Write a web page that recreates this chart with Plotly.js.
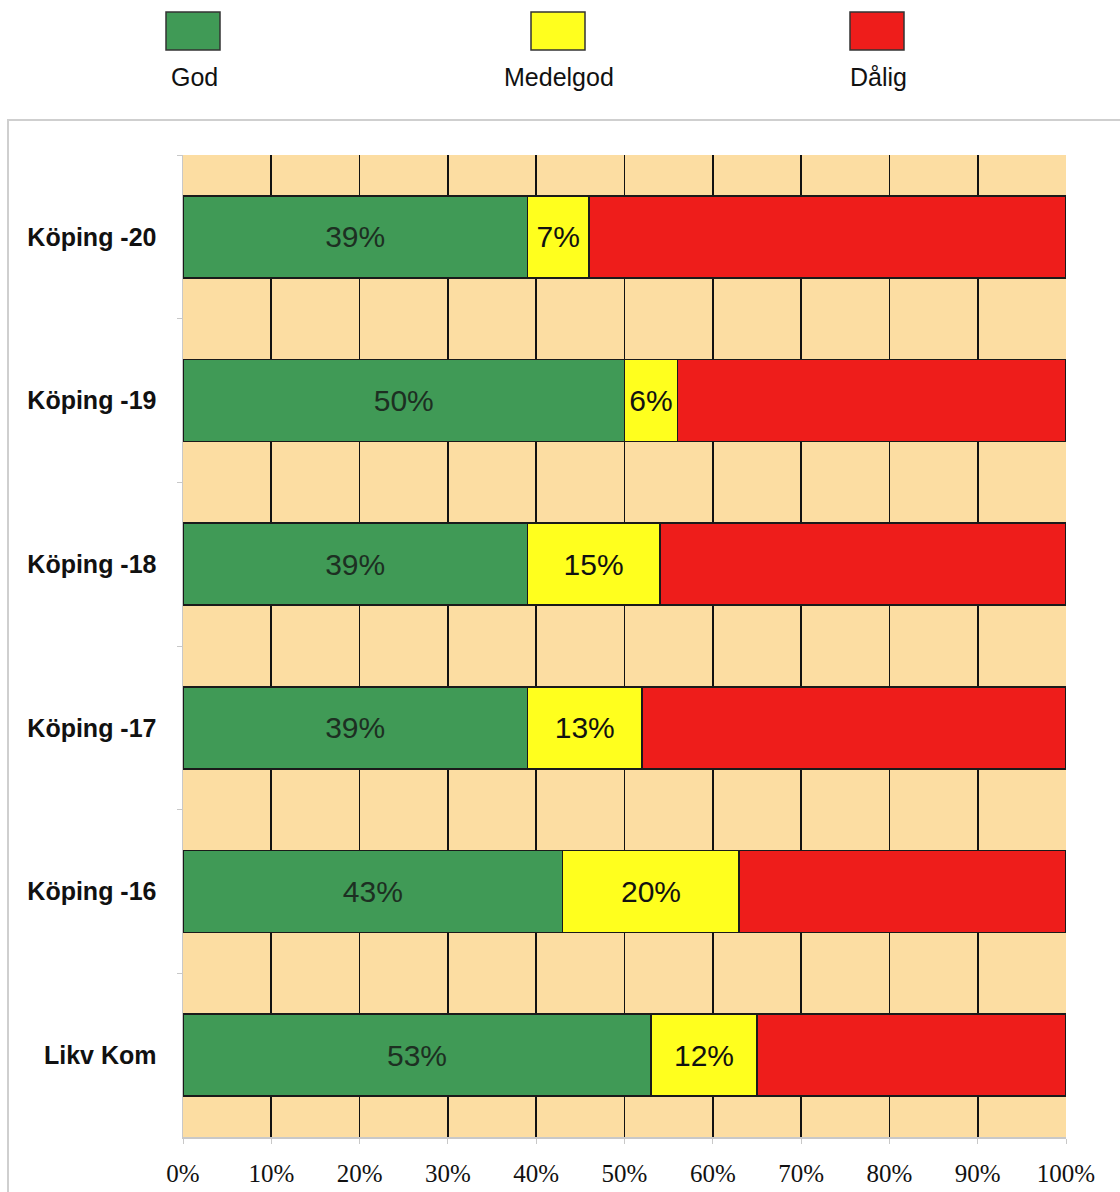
<!DOCTYPE html>
<html>
<head>
<meta charset="utf-8">
<script src="https://cdn.plot.ly/plotly-3.0.1.min.js"></script>
<style>html,body{margin:0;padding:0;background:#fff;}#chart{width:1120px;height:1192px;}</style>
</head>
<body>
<div id="chart"></div>
<script>
const categories = ["Köping -20", "Köping -19", "Köping -18", "Köping -17", "Köping -16", "Likv Kom"];
const seriesNames = ["God", "Medelgod", "Dålig"];
const god = [39, 50, 39, 39, 43, 53];
const medelgod = [7, 6, 15, 13, 20, 12];
const dalig = [54, 44, 46, 48, 37, 35];
const colors = ["#409A56", "#FFFF1E", "#EE1D1B"];
const xTickVals = [0, 10, 20, 30, 40, 50, 60, 70, 80, 90, 100];
const xTickText = ["0%", "10%", "20%", "30%", "40%", "50%", "60%", "70%", "80%", "90%", "100%"];

const seriesValues = [god, medelgod, dalig];
const showLabels = [true, true, false];

const traces = seriesValues.map((vals, i) => ({
  type: "bar",
  orientation: "h",
  name: seriesNames[i],
  x: vals,
  y: categories,
  marker: { color: colors[i], line: { color: "#1a1a1a", width: 1.6 } },
  text: showLabels[i] ? vals.map(v => v + "%") : vals.map(() => ""),
  textposition: "inside",
  insidetextanchor: "middle",
  textfont: { family: "Liberation Sans, Arial, sans-serif", size: 30, color: i === 0 ? "#1d2f22" : "#111" },
  constraintext: "none",
  hoverinfo: "skip"
}));

// Plot area in pixels
const L = 183, R = 54, T = 155, B = 55, W = 1120, H = 1192;
const pw = W - L - R, ph = H - T - B;
const px = x => (x - L) / pw;
const py = y => (H - B - y) / ph;

const legendCenters = [193, 558, 877];
const shapes = [];
const annotations = [];
seriesNames.forEach((n, i) => {
  const cx = legendCenters[i];
  shapes.push({
    type: "rect", xref: "paper", yref: "paper",
    x0: px(cx - 27), x1: px(cx + 27), y0: py(50), y1: py(12),
    fillcolor: colors[i], line: { color: "#333", width: 1.5 }
  });
  annotations.push({
    xref: "paper", yref: "paper", x: px(cx + 1), y: py(77),
    xanchor: "center", yanchor: "middle", showarrow: false,
    text: n, font: { family: "Liberation Sans, Arial, sans-serif", size: 25, color: "#111" }
  });
});
// outer frame
shapes.push({
  type: "rect", xref: "paper", yref: "paper",
  x0: px(8), x1: px(1130), y0: py(1200), y1: py(120),
  fillcolor: "rgba(0,0,0,0)", line: { color: "#cfcfcf", width: 2 }, layer: "below"
});

const layout = {
  width: W, height: H,
  margin: { l: L, r: R, t: T, b: B, pad: 0 },
  paper_bgcolor: "#ffffff",
  plot_bgcolor: "#FCDDA2",
  barmode: "stack",
  bargap: 0.5,
  showlegend: false,
  xaxis: {
    range: [0, 100],
    tickvals: xTickVals, ticktext: xTickText,
    showgrid: true, gridcolor: "#111", gridwidth: 1.6,
    zeroline: false,
    showline: true, linecolor: "#c8c8c8", linewidth: 1.5,
    ticks: "outside", ticklen: 5, tickcolor: "#c8c8c8",
    ticklabelstandoff: 8,
    tickfont: { family: "Liberation Serif, DejaVu Serif, serif", size: 25, color: "#111" },
    fixedrange: true
  },
  yaxis: {
    type: "category",
    categoryorder: "array", categoryarray: categories,
    autorange: "reversed",
    showgrid: false, zeroline: false,
    showline: true, linecolor: "#c8c8c8", linewidth: 1.5,
    ticks: "outside", ticklen: 5, tickcolor: "#c8c8c8",
    tickson: "boundaries",
    ticklabelstandoff: 20,
    tickfont: { family: "Liberation Sans, Arial, sans-serif", size: 25, color: "#111", weight: "bold" },
    fixedrange: true
  },
  shapes: shapes,
  annotations: annotations
};

Plotly.newPlot("chart", traces, layout, { staticPlot: true, displayModeBar: false });
</script>
</body>
</html>
